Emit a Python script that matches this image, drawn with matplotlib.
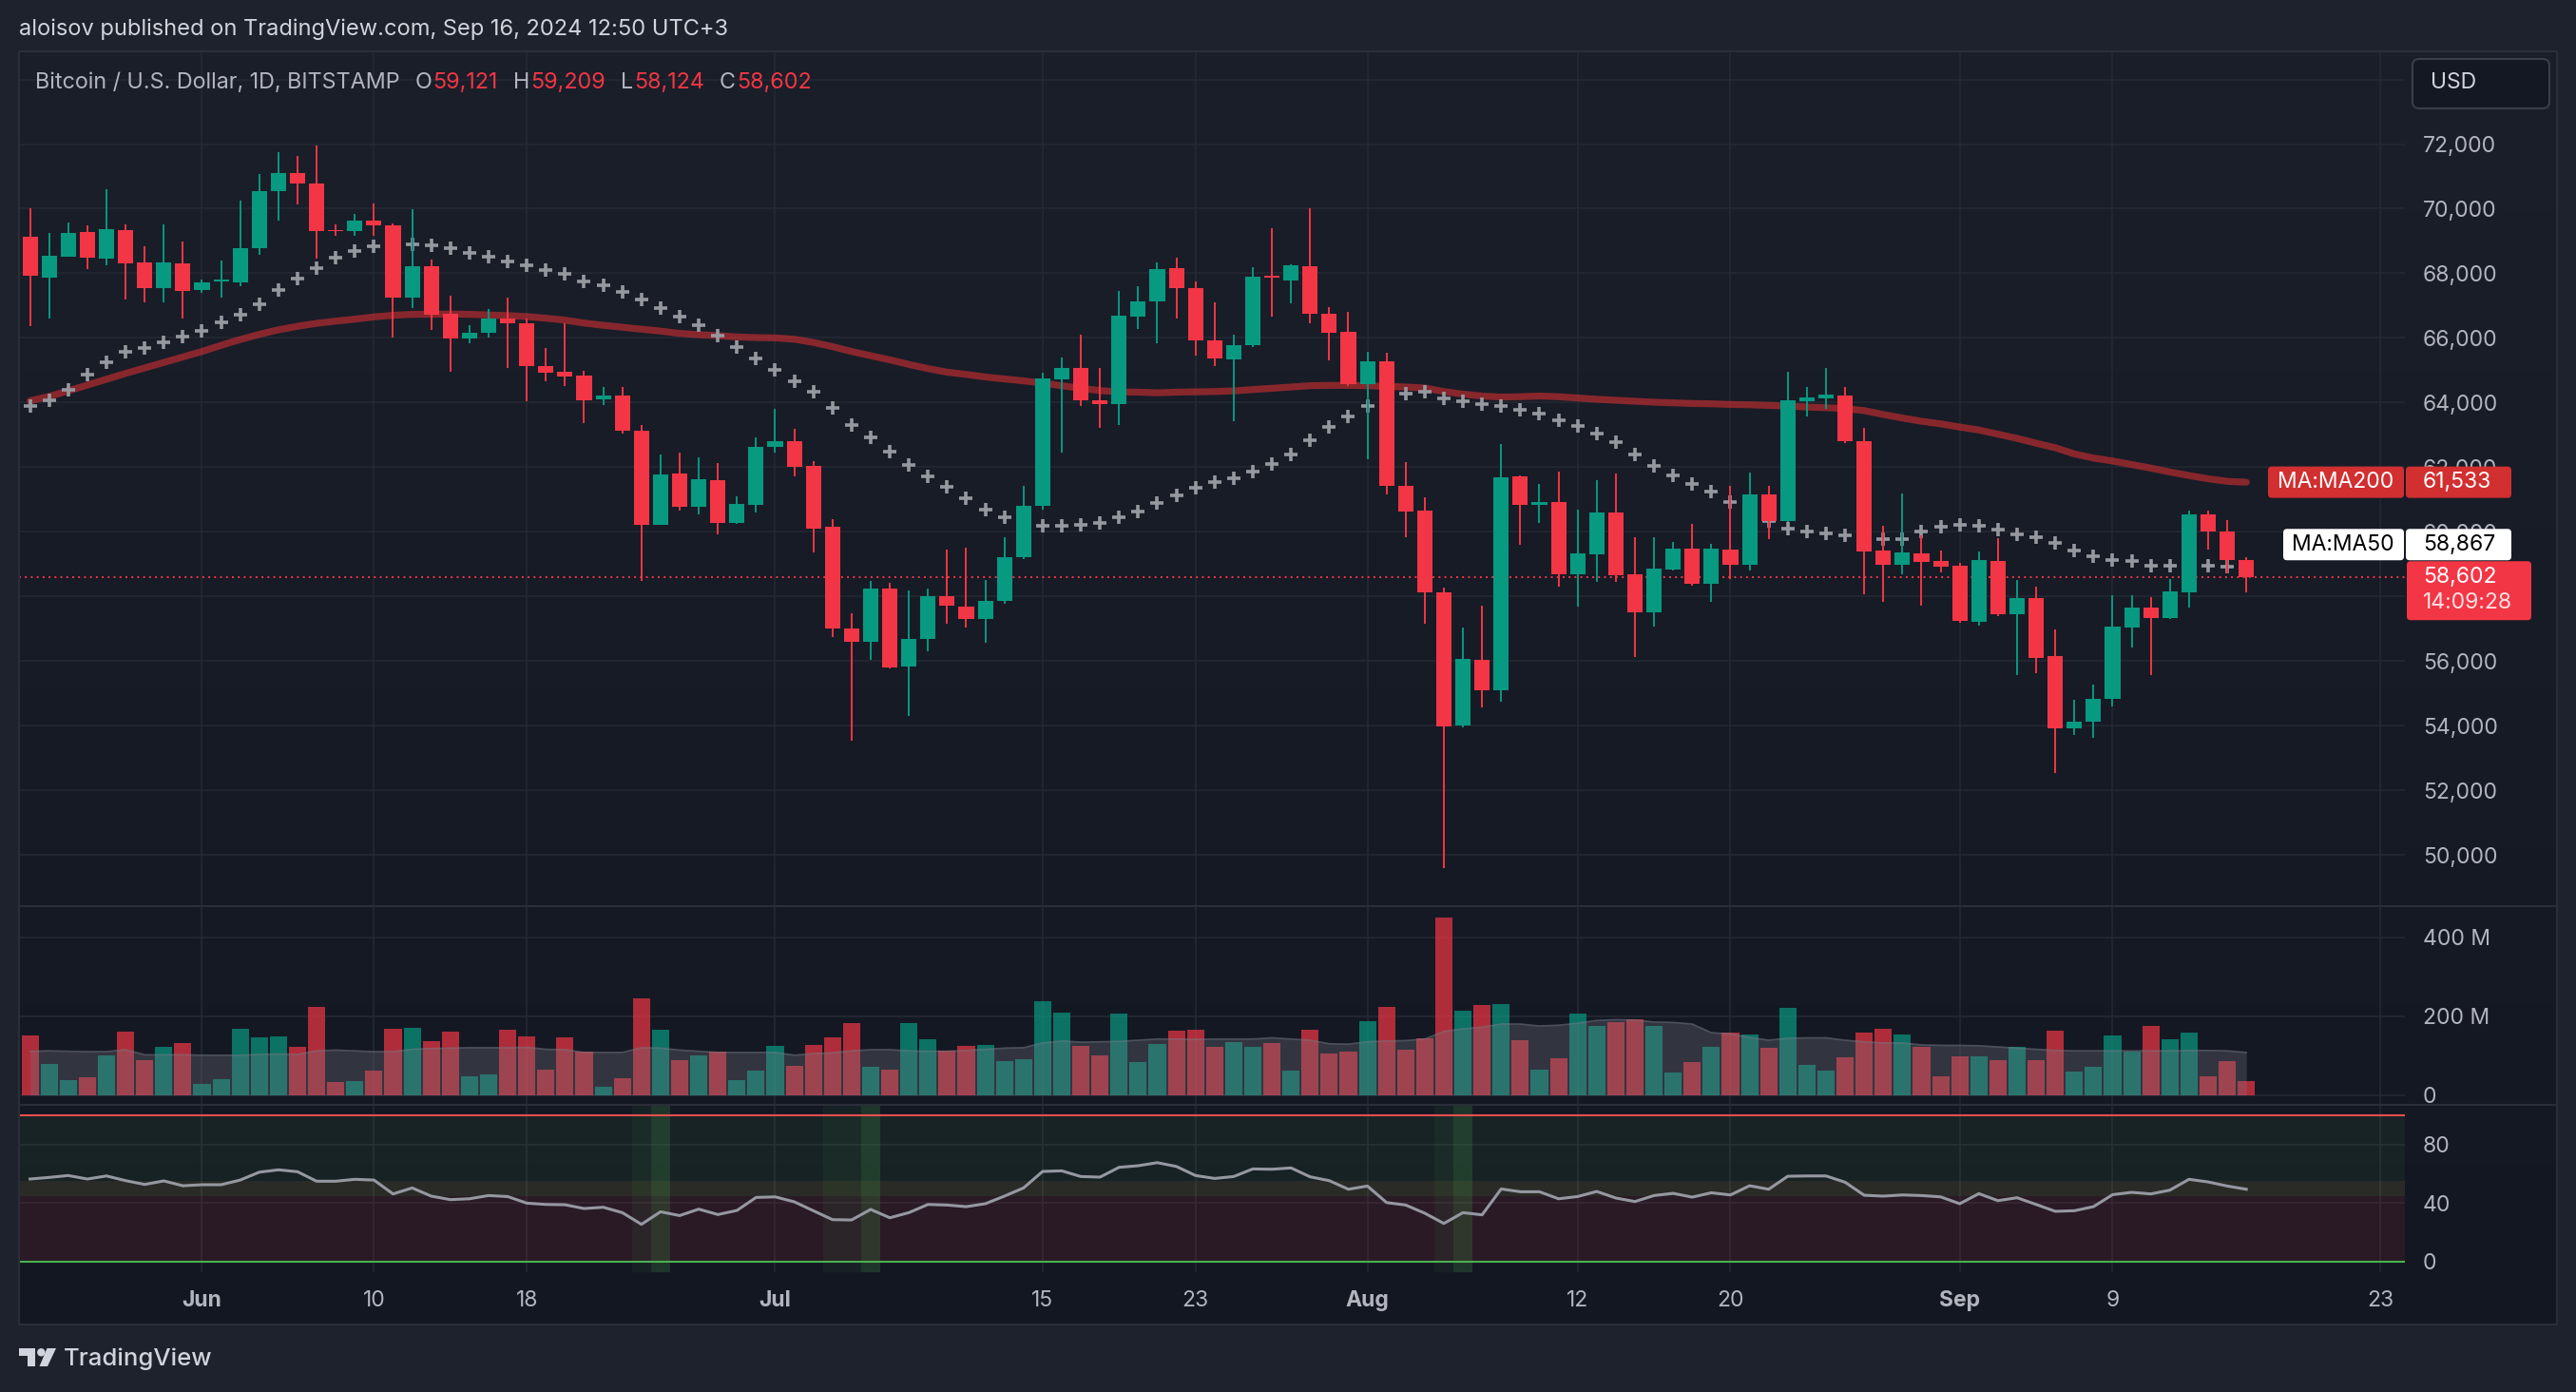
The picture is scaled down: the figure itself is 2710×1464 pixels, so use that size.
import numpy as np
import pandas as pd
import matplotlib
matplotlib.use('Agg')
import matplotlib.pyplot as plt
import matplotlib.dates as mdates
from matplotlib.patches import Rectangle, FancyBboxPatch, Circle, Polygon
from matplotlib.transforms import blended_transform_factory

plt.rcParams['font.family'] = ['Inter', 'DejaVu Sans']

W, H = 2710, 1464

# daily candles, BTC/USD Bitstamp, 23 May - 16 Sep 2024
dates = pd.date_range('2024-05-23', '2024-09-16', freq='D')

opens = [
    69140, 67870, 68520, 69280, 68440, 69340, 68340, 67530, 68310, 67470,
    67750, 67710, 68770, 70530, 71110, 70780, 69350, 69300, 69640, 69490,
    67260, 68220, 66750, 65980, 66150, 66610, 66460, 65130, 64940, 64820,
    64100, 64230, 63140, 60220, 61800, 60780, 61590, 60280, 60840, 62630,
    62800, 62030, 60150, 57010, 56580, 58250, 55820, 56670, 58010, 57690,
    57310, 57860, 59210, 60790, 64710, 65060, 64070, 63940, 66670, 67130,
    68170, 67550, 65930, 65330, 65770, 67920, 67790, 68220, 66750, 66180,
    64570, 65290, 61420, 60650, 58130, 54000, 56020, 55090, 61700, 60820,
    60910, 58680, 59300, 60590, 58680, 57510, 58830, 59470, 58390, 59450,
    58980, 61150, 60330, 64050, 64140, 64230, 62790, 59420, 58980, 59330,
    59090, 58950, 57220, 59090, 57450, 57950, 56160, 53910, 54120, 54820,
    57030, 57640, 57320, 58120, 60550, 60010, 59121]
highs = [
    70020, 69260, 69570, 69490, 70610, 69520, 68840, 69520, 68980, 67820,
    68400, 70250, 71080, 71750, 71630, 71960, 69520, 69840, 70160, 69550,
    69990, 68430, 67320, 66400, 66900, 67250, 66600, 65690, 66440, 64990,
    64470, 64470, 63300, 62390, 62450, 62300, 62140, 61100, 62910, 63800,
    63200, 62180, 60400, 57480, 58480, 58410, 58190, 58250, 59450, 59500,
    58500, 59830, 61410, 64910, 65380, 66110, 65080, 67450, 67600, 68340,
    68490, 67750, 67100, 66110, 68200, 69390, 68280, 70000, 66960, 66810,
    65560, 65530, 62150, 61070, 58280, 57040, 57720, 62710, 61740, 61470,
    61850, 60680, 61590, 61790, 59830, 59830, 59680, 60240, 59620, 61410,
    61820, 61410, 64960, 64490, 65080, 64490, 63230, 60180, 61180, 59890,
    59420, 59040, 59390, 59800, 58510, 58300, 56970, 54810, 55280, 58050,
    58030, 57980, 58540, 60660, 60660, 60360, 59209]
lows = [
    66350, 66610, 68500, 68140, 68240, 67190, 67090, 67090, 66610, 67380,
    67260, 67590, 68560, 69630, 70120, 68440, 69150, 69150, 69170, 66000,
    66910, 66240, 64940, 65830, 66000, 65060, 64040, 64650, 64500, 63350,
    63920, 63050, 58470, 60200, 60650, 60550, 59930, 60250, 60610, 62460,
    61700, 59360, 56740, 53540, 56030, 55760, 54310, 56290, 57140, 57040,
    56560, 57770, 59150, 60690, 62460, 63900, 63230, 63310, 66270, 65820,
    66590, 65450, 65120, 63430, 65720, 66650, 67060, 66440, 65300, 64500,
    62230, 61160, 59840, 57150, 49590, 53950, 54550, 54740, 59590, 60260,
    58310, 57670, 58460, 58460, 56130, 57070, 58800, 58340, 57830, 58540,
    58800, 59770, 60300, 63580, 63790, 62750, 58070, 57830, 58680, 57720,
    58740, 57190, 57100, 57390, 55570, 55630, 52540, 53720, 53620, 54600,
    56410, 55560, 57300, 57660, 59440, 58720, 58124]
closes = [
    67920, 68550, 69260, 68470, 69380, 68300, 67530, 68340, 67450, 67720,
    67770, 68790, 70540, 71110, 70770, 69300, 69300, 69640, 69470, 67260,
    68220, 66710, 65980, 66160, 66610, 66450, 65120, 64920, 64810, 64060,
    64230, 63120, 60220, 61760, 60780, 61620, 60280, 60850, 62640, 62810,
    62010, 60110, 57000, 56580, 58250, 55790, 56690, 58010, 57700, 57310,
    57860, 59210, 60790, 64760, 65060, 64070, 63940, 66700, 67130, 68130,
    67540, 65920, 65370, 65780, 67900, 67880, 68250, 66740, 66150, 64570,
    65290, 61410, 60640, 58120, 53980, 56050, 55090, 61680, 60840, 60930,
    58680, 59330, 60590, 58650, 57510, 58860, 59470, 58390, 59470, 58980,
    61150, 60330, 64080, 64170, 64250, 62790, 59390, 58980, 59360, 59060,
    58920, 57250, 59120, 57450, 57950, 56100, 53910, 54130, 54840, 57050,
    57640, 57320, 58140, 60550, 60010, 59120, 58602]

ma50 = [
    63880, 64080, 64400, 64850, 65260, 65560, 65700, 65850, 66040, 66230,
    66480, 66730, 67050, 67470, 67850, 68170, 68470, 68680, 68830, 68880,
    68890, 68880, 68790, 68630, 68500, 68380, 68260, 68110, 67970, 67760,
    67620, 67430, 67180, 66910, 66660, 66390, 66060, 65710, 65350, 65000,
    64670, 64330, 63820, 63300, 62920, 62480, 62070, 61720, 61390, 61050,
    60690, 60450, 60210, 60190, 60190, 60210, 60260, 60440, 60640, 60890,
    61140, 61370, 61540, 61660, 61860, 62090, 62400, 62830, 63250, 63580,
    63900, 64110, 64280, 64330, 64140, 64030, 63950, 63900, 63780, 63650,
    63450, 63270, 63030, 62770, 62390, 62040, 61730, 61470, 61240, 60920,
    60610, 60320, 60090, 60000, 59940, 59900, 59810, 59760, 59760, 60000,
    60160, 60220, 60190, 60080, 59930, 59820, 59640, 59410, 59230, 59130,
    59090, 58960, 58940, 58940, 58940, 58910, 58867]
ma200 = [
    64050, 64190, 64360, 64540, 64720, 64900, 65070, 65240, 65410, 65580,
    65770, 65950, 66110, 66250, 66360, 66450, 66520, 66580, 66650, 66700,
    66730, 66730, 66740, 66730, 66710, 66690, 66660, 66610, 66550, 66460,
    66390, 66330, 66270, 66210, 66140, 66100, 66070, 66030, 66010, 66000,
    65960, 65860, 65730, 65580, 65450, 65320, 65180, 65050, 64940, 64870,
    64790, 64730, 64670, 64600, 64520, 64440, 64370, 64330, 64320, 64300,
    64320, 64330, 64340, 64360, 64400, 64440, 64480, 64520, 64530, 64530,
    64520, 64500, 64480, 64450, 64340, 64260, 64200, 64170, 64180, 64200,
    64180, 64140, 64100, 64070, 64040, 64010, 63990, 63970, 63960, 63940,
    63930, 63910, 63890, 63860, 63840, 63810, 63750, 63630, 63520, 63420,
    63340, 63240, 63150, 63020, 62890, 62740, 62600, 62410, 62280, 62190,
    62080, 61970, 61850, 61740, 61640, 61560, 61533]

# volume in millions and its moving average
volume = [
    151, 79, 38, 45, 100, 161, 88, 122, 132, 28,
    40, 168, 146, 149, 122, 223, 33, 35, 62, 168,
    170, 137, 161, 47, 52, 165, 149, 64, 146, 110,
    21, 43, 245, 165, 88, 100, 110, 38, 62, 124,
    74, 127, 146, 182, 71, 64, 182, 141, 112, 124,
    127, 86, 91, 238, 209, 124, 100, 206, 84, 129,
    163, 165, 122, 134, 122, 132, 62, 165, 105, 110,
    187, 223, 115, 144, 450, 214, 228, 230, 139, 64,
    93, 206, 175, 185, 192, 175, 57, 84, 122, 158,
    153, 120, 221, 76, 62, 96, 158, 168, 153, 122,
    47, 98, 98, 88, 122, 88, 163, 59, 71, 151,
    110, 175, 141, 158, 47, 86, 35]
volume_ma = [
    111, 112, 111, 110, 110, 115, 102, 102, 102, 101,
    101, 101, 103, 104, 103, 112, 114, 112, 110, 110,
    116, 118, 119, 120, 120, 120, 121, 116, 115, 108,
    108, 108, 120, 119, 114, 111, 108, 108, 108, 108,
    101, 105, 107, 112, 115, 115, 112, 111, 111, 113,
    116, 119, 120, 132, 137, 134, 135, 136, 139, 142,
    142, 141, 142, 142, 142, 145, 142, 139, 130, 129,
    135, 137, 138, 142, 161, 168, 172, 180, 180, 175,
    177, 182, 189, 191, 190, 185, 184, 180, 158, 155,
    146, 139, 144, 145, 145, 139, 135, 132, 132, 127,
    126, 126, 125, 122, 119, 116, 113, 112, 112, 112,
    112, 112, 112, 113, 113, 112, 108]

rsi = [
    56.4, 57.5, 58.8, 56.4, 58.5, 55.3, 52.7, 55.1, 51.8, 52.5,
    52.5, 55.7, 61.1, 62.7, 61.4, 54.9, 54.9, 56.2, 55.7, 46.2,
    50.3, 44.7, 42.3, 42.9, 45.1, 44.4, 39.9, 39.0, 38.8, 36.2,
    37.1, 33.4, 25.4, 34.0, 31.4, 35.8, 32.1, 34.9, 43.8, 44.2,
    40.8, 34.7, 28.6, 28.4, 35.6, 29.9, 33.4, 39.0, 38.6, 37.5,
    39.5, 44.7, 50.3, 61.6, 62.0, 58.1, 57.7, 64.4, 65.5, 67.6,
    65.0, 58.8, 56.8, 58.1, 63.3, 63.1, 64.0, 57.9, 55.3, 49.4,
    51.6, 40.3, 38.6, 33.0, 26.0, 33.4, 31.9, 49.6, 47.7, 47.7,
    42.9, 44.4, 47.9, 43.4, 41.0, 45.1, 46.6, 44.0, 47.0, 45.5,
    51.8, 49.4, 58.3, 58.5, 58.5, 54.2, 45.3, 44.7, 45.5, 45.1,
    44.2, 39.5, 46.4, 41.6, 43.6, 39.0, 34.3, 34.7, 37.5, 45.7,
    47.3, 46.2, 48.8, 56.2, 54.4, 51.6, 49.4]
rsi_dim_days = ['2024-06-24', '2024-07-04', '2024-07-05', '2024-08-05']
rsi_bright_days = ['2024-06-25', '2024-07-06', '2024-08-06']

tick_days = ['2024-06-01', '2024-06-10', '2024-06-18', '2024-07-01', '2024-07-15', '2024-07-23',
             '2024-08-01', '2024-08-12', '2024-08-20', '2024-09-01', '2024-09-09', '2024-09-23']
tick_labels = ['Jun', '10', '18', 'Jul', '15', '23', 'Aug', '12', '20', 'Sep', '9', '23']
price_ticks = list(range(50000, 74001, 2000))

header = 'aloisov published on TradingView.com, Sep 16, 2024 12:50 UTC+3'
legend_name = 'Bitcoin / U.S. Dollar, 1D, BITSTAMP'
countdown = '14:09:28'

for arr in (opens, highs, lows, closes, ma50, ma200, volume, volume_ma, rsi):
    assert len(arr) == len(dates)

UP = '#089981'
DOWN = '#f23645'
GRID = '#252934'
TXT = '#b2b5be'
FS = 16.5

x = mdates.date2num(dates)
o = np.array(opens); c = np.array(closes)
up = c >= o
cols = np.where(up, UP, DOWN)
tx = mdates.date2num(pd.to_datetime(tick_days))


def rect(x0, y0, x1, y1):
    return [x0 / W, 1 - y1 / H, (x1 - x0) / W, (y1 - y0) / H]


fig = plt.figure(figsize=(W / 100, H / 100), dpi=100, facecolor='#1e222d')

# panel background with a soft vertical gradient
bg = fig.add_axes(rect(20, 54, 2690, 1393))
bg.set_zorder(0)
g = np.linspace(0, 1, 256)[:, None, None]
top = np.array([27, 31, 42]) / 255.
bot = np.array([19, 23, 34]) / 255.
bg.imshow(top + (bot - top) * g, aspect='auto', extent=(0, 1, 0, 1))
bg.axis('off')

ax = fig.add_axes(rect(20, 54, 2530, 952))
axv = fig.add_axes(rect(20, 954, 2530, 1161), sharex=ax)
axr = fig.add_axes(rect(20, 1163, 2530, 1338), sharex=ax)
for a in (ax, axv, axr):
    a.set_zorder(2)
    a.set_facecolor('none')
    for s in a.spines.values():
        s.set_visible(False)
    a.yaxis.tick_right()
    a.tick_params(axis='y', length=0, pad=13.7, labelsize=FS, labelcolor=TXT)
    a.tick_params(axis='x', length=0, labelbottom=False)
    a.set_xticks(tx)
    a.grid(True, color=GRID, lw=1.1)
    a.set_axisbelow(True)
    for lab in a.get_yticklabels():
        lab.set_horizontalalignment('left')

ax.set_xlim(x[0] - 0.577, x[0] + 124.3)

# --- price pane
ax.set_ylim(48441, 74870)
ax.set_yticks(price_ticks)
ax.set_yticklabels(['' if v == 74000 else f'{v:,}' for v in price_ticks])

ax.plot(x, ma200, color='#d22f31', alpha=0.6, lw=5.2, solid_capstyle='round', zorder=2)
ax.plot(x, ma50, ls='none', marker='+', ms=9.5, mew=2.6, color='#96989f', zorder=2.5)
ax.vlines(x, lows, highs, colors=cols, lw=1.4, zorder=3)
body_lo = np.minimum(o, c)
body_h = np.maximum(np.abs(c - o), 50)
ax.bar(x, body_h, bottom=body_lo, width=0.8, color=cols, lw=0, zorder=4)
ax.axhline(closes[-1], color=DOWN, lw=1.4, ls=(0, (1, 2.2)), zorder=3.5)

# --- volume pane
axv.set_ylim(-22.4, 476.4)
axv.set_yticks([0, 200, 400])
axv.set_yticklabels(['0', '200 M', '400 M'])
axv.bar(x, volume, width=0.9, color=cols, alpha=0.7, lw=0, zorder=2)
axv.fill_between(x, 0, volume_ma, color='#787b86', alpha=0.3, lw=0, zorder=3)
axv.plot(x, volume_ma, color='#787b86', alpha=0.55, lw=1.2, zorder=3)

# --- oscillator pane
axr.set_ylim(-7.35, 106.5)
axr.set_yticks([0, 40, 80])
axr.axhspan(55, 100, color='#4caf50', alpha=0.08, lw=0, zorder=1)
axr.axhspan(45, 55, color='#d4c24a', alpha=0.12, lw=0, zorder=1)
axr.axhspan(0, 45, color='#f23645', alpha=0.10, lw=0, zorder=1)
for d in rsi_dim_days:
    xd = mdates.date2num(pd.Timestamp(d))
    axr.axvspan(xd - 0.5, xd + 0.5, color='#4caf50', alpha=0.07, lw=0, zorder=1.2)
for d in rsi_bright_days:
    xd = mdates.date2num(pd.Timestamp(d))
    axr.axvspan(xd - 0.5, xd + 0.5, color='#4caf50', alpha=0.2, lw=0, zorder=1.2)
axr.axhline(100, color='#ef4f4f', lw=1.5, zorder=2)
axr.axhline(0, color='#4caf50', lw=1.5, zorder=2)
axr.plot(x, rsi, color='#9598a1', lw=2.2, zorder=3)

# --- overlay for text and labels, in pixel units
ov = fig.add_axes([0, 0, 1, 1])
ov.set_zorder(5)
ov.set_facecolor('none')
ov.set_xlim(0, W)
ov.set_ylim(H, 0)
ov.axis('off')

ov.add_patch(Rectangle((20, 54), 2670, 1339, fill=False, ec='#2a2e39', lw=1.5))
ov.hlines([953, 1162], 20, 2690, colors='#2a2e39', lw=1.5)

ov.text(20, 31, header, color='#d1d4dc', fontsize=17, va='center', ha='left')

renderer = fig.canvas.get_renderer()
runs = [(legend_name, TXT, 16), ('O', TXT, 1), (f'{opens[-1]:,}', DOWN, 16),
        ('H', TXT, 1), (f'{highs[-1]:,}', DOWN, 16), ('L', TXT, 1),
        (f'{lows[-1]:,}', DOWN, 16), ('C', TXT, 1), (f'{closes[-1]:,}', DOWN, 0)]
xp = 37
for s, col, gap in runs:
    t = ov.text(xp, 87, s, color=col, fontsize=16.8, va='center', ha='left')
    xp += t.get_window_extent(renderer).width + gap

# USD box
ov.add_patch(FancyBboxPatch((2538, 62), 144, 52, boxstyle='round,pad=0,rounding_size=7',
                            fc='#141823', ec='#3a3e49', lw=1.5))
ov.text(2557, 87, 'USD', color='#d1d4dc', fontsize=FS, va='center', ha='left')


def price_px(v):
    return H - ax.transData.transform((x[0], v))[1]


def box(x0, x1, yc, h, col):
    ov.add_patch(FancyBboxPatch((x0, yc - h / 2), x1 - x0, h,
                                boxstyle='round,pad=0,rounding_size=4', fc=col, ec='none'))


y200 = price_px(ma200[-1])
y_last = price_px(closes[-1])
y50 = min(price_px(ma50[-1]), y_last - 34)

box(2386, 2529, y200, 33, '#d22f31')
box(2531, 2642, y200, 33, '#d22f31')
ov.text(2396, y200, 'MA:MA200', color='white', fontsize=FS, va='center', ha='left')
ov.text(2549, y200, f'{ma200[-1]:,}', color='white', fontsize=FS, va='center', ha='left')

box(2402, 2529, y50, 33, 'white')
box(2531, 2642, y50, 33, 'white')
ov.text(2411, y50, 'MA:MA50', color='black', fontsize=FS, va='center', ha='left')
ov.text(2549, y50, f'{ma50[-1]:,}', color='black', fontsize=FS, va='center', ha='left')

ov.add_patch(FancyBboxPatch((2532, y_last - 16.5), 131, 62,
                            boxstyle='round,pad=0,rounding_size=4', fc=DOWN, ec='none'))
ov.text(2549, y_last, f'{closes[-1]:,}', color='white', fontsize=FS, va='center', ha='left')
ov.text(2549, y_last + 27, countdown, color='white', alpha=0.85, fontsize=FS,
        va='center', ha='left')

# time axis labels
tr = blended_transform_factory(axr.transData, ov.transData)
for xv, lab in zip(tx, tick_labels):
    bold = not lab.isdigit()
    ov.text(xv, 1368, lab, transform=tr, color=TXT, fontsize=FS, ha='center', va='center',
            fontweight='bold' if bold else 'normal')

# TradingView mark
logo = '#d1d4dc'
ov.add_patch(Rectangle((20, 1418), 17, 8, color=logo, lw=0))
ov.add_patch(Rectangle((28.5, 1418), 8.5, 19, color=logo, lw=0))
ov.add_patch(Circle((43.3, 1422.3), 4.2, color=logo, lw=0))
ov.add_patch(Polygon([[41.5, 1437], [50, 1437], [59, 1418], [49.5, 1418]], closed=True,
                     color=logo, lw=0))
ov.text(67, 1429, 'TradingView', color=logo, fontsize=18.5, fontweight='medium',
        va='center', ha='left')

fig.savefig('out.png', dpi=100, facecolor=fig.get_facecolor())
